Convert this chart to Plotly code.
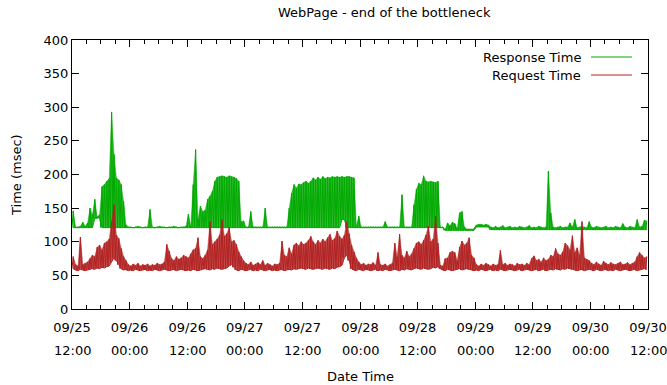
import plotly.graph_objects as go
from datetime import datetime, timedelta

# ---------------- data ----------------
START = datetime(2013, 9, 25, 12, 0)   # left edge of the axis
BIN_HOURS = 0.5                         # each value pair covers half an hour

# x tick labels (two lines each)
tick_hours = [0, 12, 24, 36, 48, 60, 72, 84, 96, 108, 120]
tick_dates = ["09/25", "09/26", "09/26", "09/27", "09/27", "09/28",
              "09/28", "09/29", "09/29", "09/30", "09/30"]
tick_times = ["12:00", "00:00", "12:00", "00:00", "12:00", "00:00",
              "12:00", "00:00", "12:00", "00:00", "12:00"]
y_ticks = [0, 50, 100, 150, 200, 250, 300, 350, 400]

# Response Time: per half-hour bin, upper and lower envelope (msec)
response_hi = [
    146, 122, 122, 123, 129, 123, 128, 150, 140, 163, 137, 140, 182, 185, 190, 194, 293, 230, 195, 192, 185, 160, 125, 122,
    122, 121, 122, 123, 122, 121, 122, 122, 148, 122, 121, 122, 123, 122, 122, 121, 122, 122, 123, 122, 121, 122, 122, 123,
    141, 123, 185, 237, 134, 153, 145, 147, 163, 168, 175, 190, 196, 197, 198, 197, 196, 198, 197, 196, 194, 190, 130, 131,
    122, 122, 145, 122, 122, 122, 122, 122, 150, 122, 122, 122, 122, 122, 122, 122, 122, 122, 150, 172, 185, 180, 186, 185,
    188, 190, 187, 190, 195, 192, 196, 193, 197, 194, 196, 195, 197, 196, 197, 196, 197, 196, 197, 197, 196, 195, 123, 138,
    122, 122, 122, 122, 122, 122, 122, 122, 122, 122, 130, 122, 122, 122, 122, 122, 122, 170, 122, 122, 122, 122, 155, 178,
    187, 185, 198, 190, 189, 190, 189, 188, 190, 122, 122, 119, 128, 124, 129, 127, 120, 143, 145, 122, 119, 119, 119, 119,
    125, 126, 126, 125, 126, 125, 122, 121, 123, 121, 122, 124, 121, 122, 123, 121, 122, 121, 123, 122, 121, 122, 124, 121,
    122, 121, 123, 122, 121, 122, 205, 143, 122, 121, 122, 123, 121, 122, 122, 128, 122, 133, 121, 122, 123, 122, 121, 130,
    122, 121, 123, 122, 121, 122, 123, 121, 122, 121, 123, 122, 121, 127, 122, 121, 123, 122, 121, 133, 122, 123, 132, 131,
]
response_lo = [
    121, 121, 121, 121, 121, 121, 121, 121, 121, 135, 135, 136, 121, 121, 121, 121, 121, 121, 121, 121, 121, 121, 121, 121,
    121, 121, 121, 121, 121, 121, 121, 121, 121, 121, 121, 121, 121, 121, 121, 121, 121, 121, 121, 121, 121, 121, 121, 121,
    121, 121, 121, 121, 121, 121, 121, 121, 121, 121, 121, 121, 121, 121, 121, 121, 121, 121, 121, 121, 121, 121, 121, 121,
    121, 121, 121, 121, 121, 121, 121, 121, 121, 121, 121, 121, 121, 121, 121, 121, 121, 121, 121, 121, 121, 121, 121, 121,
    121, 121, 121, 121, 121, 121, 121, 121, 121, 121, 121, 121, 121, 121, 121, 121, 133, 133, 121, 121, 121, 121, 121, 121,
    121, 121, 121, 121, 121, 121, 121, 121, 121, 121, 121, 121, 121, 121, 121, 121, 121, 121, 121, 121, 121, 121, 121, 121,
    121, 121, 121, 121, 121, 121, 121, 121, 121, 121, 121, 117, 117, 117, 117, 117, 117, 117, 117, 117, 117, 117, 117, 117,
    122, 122, 122, 122, 122, 122, 118, 118, 118, 118, 118, 118, 118, 118, 118, 118, 118, 118, 118, 118, 118, 118, 118, 118,
    118, 118, 118, 118, 118, 118, 118, 118, 118, 118, 118, 118, 118, 118, 118, 118, 118, 118, 118, 118, 118, 118, 118, 118,
    118, 118, 118, 118, 118, 118, 118, 118, 118, 118, 118, 118, 118, 118, 118, 118, 118, 118, 118, 118, 118, 118, 118, 118,
]

# Request Time: per half-hour bin, upper and lower envelope (msec)
request_hi = [
    78, 66, 64, 107, 66, 68, 70, 75, 80, 78, 92, 95, 88, 98, 100, 104, 130, 155, 110, 105, 90, 78, 72, 66,
    64, 67, 65, 68, 64, 66, 65, 67, 64, 66, 65, 68, 66, 67, 70, 96, 86, 75, 72, 78, 74, 76, 80, 78,
    76, 82, 88, 90, 106, 78, 75, 80, 88, 130, 96, 100, 104, 110, 133, 108, 112, 121, 100, 102, 96, 85, 78, 72,
    68, 66, 70, 65, 67, 69, 66, 72, 65, 68, 66, 64, 67, 66, 68, 101, 80, 78, 91, 82, 95, 98, 94, 100,
    96, 98, 102, 108, 100, 96, 102, 98, 104, 100, 106, 111, 102, 105, 116, 108, 104, 110, 130, 112, 95, 85, 76, 70,
    66, 68, 65, 67, 66, 69, 65, 84, 66, 65, 67, 64, 66, 68, 98, 78, 111, 80, 76, 86, 78, 82, 90, 98,
    100, 96, 102, 110, 123, 100, 104, 138, 98, 65, 64, 75, 76, 84, 86, 84, 72, 92, 101, 95, 98, 106, 80, 76,
    66, 64, 67, 65, 68, 66, 64, 67, 65, 66, 87, 66, 68, 65, 67, 66, 64, 68, 66, 67, 65, 68, 66, 75,
    79, 72, 74, 70, 76, 72, 74, 80, 78, 90, 82, 80, 85, 98, 94, 88, 109, 84, 91, 80, 130, 76, 74, 72,
    68, 66, 70, 67, 65, 71, 68, 66, 69, 67, 66, 68, 70, 66, 67, 69, 66, 68, 70, 78, 84, 80, 76, 78,
]
request_lo = [
    60, 58, 57, 59, 58, 57, 58, 59, 60, 59, 61, 60, 62, 61, 63, 64, 70, 76, 72, 66, 60, 58, 59, 57,
    58, 57, 59, 58, 57, 58, 59, 57, 58, 57, 59, 58, 57, 58, 59, 58, 57, 58, 59, 57, 58, 59, 58, 57,
    58, 57, 59, 58, 57, 58, 59, 60, 59, 58, 60, 59, 61, 60, 59, 60, 61, 64, 66, 62, 58, 57, 59, 58,
    57, 58, 59, 57, 58, 57, 59, 58, 57, 58, 59, 57, 58, 57, 58, 59, 57, 58, 59, 58, 60, 59, 60, 61,
    60, 59, 61, 60, 59, 60, 61, 60, 59, 61, 60, 59, 61, 60, 62, 63, 65, 76, 80, 72, 60, 58, 57, 59,
    58, 57, 59, 58, 57, 58, 59, 57, 58, 57, 59, 58, 57, 58, 59, 58, 57, 59, 58, 60, 59, 58, 60, 61,
    60, 59, 61, 60, 59, 60, 62, 61, 63, 60, 58, 57, 59, 58, 57, 58, 59, 60, 58, 59, 60, 59, 58, 57,
    58, 57, 59, 58, 57, 58, 59, 57, 58, 57, 59, 58, 57, 58, 59, 58, 57, 58, 59, 57, 58, 59, 58, 57,
    58, 59, 57, 58, 59, 57, 58, 59, 58, 60, 59, 58, 60, 59, 61, 60, 59, 58, 57, 58, 59, 57, 58, 59,
    58, 57, 59, 58, 57, 58, 59, 57, 58, 57, 59, 58, 57, 58, 59, 58, 57, 58, 59, 57, 58, 59, 60, 59,
]

GREEN = "#00aa00"
RED = "#b22222"
GREEN_LIGHT = "rgba(0,170,0,0.8)"
RED_LIGHT = "rgba(178,34,34,0.8)"
FONT = "DejaVu Sans"
FS = 13
LW = 1.0

n_bins = len(response_hi)
# bin centre times (peaks) and bin start times (troughs)
bin_centres = [START + timedelta(hours=(i + 0.5) * BIN_HOURS) for i in range(n_bins)]
bin_starts = [START + timedelta(hours=i * BIN_HOURS) for i in range(n_bins)]


def zigzag(lo, hi):
    xs, ys = [], []
    for i in range(n_bins):
        xs += [bin_starts[i], bin_centres[i]]
        ys += [lo[i], hi[i]]
    return xs, ys


fig = go.Figure()
for name, lo, hi, col, light in [("Response Time", response_lo, response_hi, GREEN, GREEN_LIGHT),
                                 ("Request Time", request_lo, request_hi, RED, RED_LIGHT)]:
    # lower envelope
    fig.add_trace(go.Scatter(x=bin_centres, y=lo, mode="lines", name=name + " (low)",
                             line=dict(color=col, width=LW, simplify=False),
                             showlegend=False, hoverinfo="skip"))
    # upper envelope, band filled down to the lower envelope
    fig.add_trace(go.Scatter(x=bin_centres, y=hi, mode="lines", name=name + " (high)",
                             line=dict(color=light, width=0.5, simplify=False),
                             fill="tonexty", fillcolor=light, showlegend=False,
                             hoverinfo="skip"))
    # the dense sample trace itself
    zx, zy = zigzag(lo, hi)
    fig.add_trace(go.Scatter(x=zx, y=zy, mode="lines", name=name,
                             line=dict(color=col, width=LW, simplify=False),
                             showlegend=False))

tickvals = [START + timedelta(hours=h) for h in tick_hours]

W, H = 667, 385
L, R, T, B = 72, 19, 40, 76
pw, ph = W - L - R, H - T - B


def px_x(p):
    return (p - L) / pw


def px_y(p):
    return (H - B - p) / ph


fig.update_layout(
    width=W, height=H,
    margin=dict(l=L, r=R, t=T, b=B, autoexpand=False),
    paper_bgcolor="white", plot_bgcolor="white",
    font=dict(family=FONT, size=FS, color="black"),
    showlegend=False,
    xaxis=dict(
        type="date", automargin=False,
        range=[tickvals[0], tickvals[-1]],
        tickmode="array", tickvals=tickvals, ticktext=tick_dates,
        ticks="inside", ticklen=7, tickwidth=1, tickcolor="black",
        ticklabelstandoff=6,
        minor=dict(dtick=3 * 3600 * 1000, tick0=tickvals[0], ticks="inside",
                   ticklen=4, tickwidth=1, tickcolor="black", showgrid=False),
        showline=True, linecolor="black", linewidth=1, mirror="ticks",
        showgrid=False, zeroline=False,
        tickfont=dict(family=FONT, size=FS, color="black"),
    ),
    yaxis=dict(
        range=[0, 400], automargin=False,
        tickmode="array", tickvals=y_ticks, ticktext=[str(v) for v in y_ticks],
        ticks="inside", ticklen=7, tickwidth=1, tickcolor="black",
        showline=True, linecolor="black", linewidth=1, mirror="ticks",
        showgrid=False, zeroline=False,
        tickfont=dict(family=FONT, size=FS, color="black"),
    ),
)

annotations = []
# second line of the x tick labels
for tv, txt in zip(tickvals, tick_times):
    annotations.append(dict(x=tv, xref="x", y=0, yref="paper", text=txt,
                            showarrow=False, xanchor="center", yanchor="middle",
                            yshift=-41, font=dict(family=FONT, size=FS, color="black")))
# title and axis titles
annotations.append(dict(x=px_x(384), xref="paper", y=px_y(12), yref="paper",
                        text="WebPage - end of the bottleneck", showarrow=False,
                        xanchor="center", yanchor="middle",
                        font=dict(family=FONT, size=FS, color="black")))
annotations.append(dict(x=px_x(360), xref="paper", y=px_y(376), yref="paper",
                        text="Date Time", showarrow=False,
                        xanchor="center", yanchor="middle",
                        font=dict(family=FONT, size=FS, color="black")))
annotations.append(dict(x=px_x(16), xref="paper", y=px_y(175), yref="paper",
                        text="Time (msec)", showarrow=False, textangle=-90,
                        xanchor="center", yanchor="middle",
                        font=dict(family=FONT, size=FS, color="black")))
# key
legend_rows = [("Response Time", GREEN, 57), ("Request Time", RED, 75)]
shapes = []
for name, col, py in legend_rows:
    annotations.append(dict(x=px_x(583), xref="paper", y=px_y(py), yref="paper",
                            text=name, showarrow=False, xanchor="right", yanchor="middle",
                            font=dict(family=FONT, size=FS, color="black")))
    shapes.append(dict(type="line", xref="paper", yref="paper",
                       x0=px_x(591), x1=px_x(632), y0=px_y(py), y1=px_y(py),
                       line=dict(color=col, width=1)))

fig.update_layout(annotations=annotations, shapes=shapes)
fig.write_html("out.html", config={"displayModeBar": False},
               post_script="document.body.style.margin='0';")
